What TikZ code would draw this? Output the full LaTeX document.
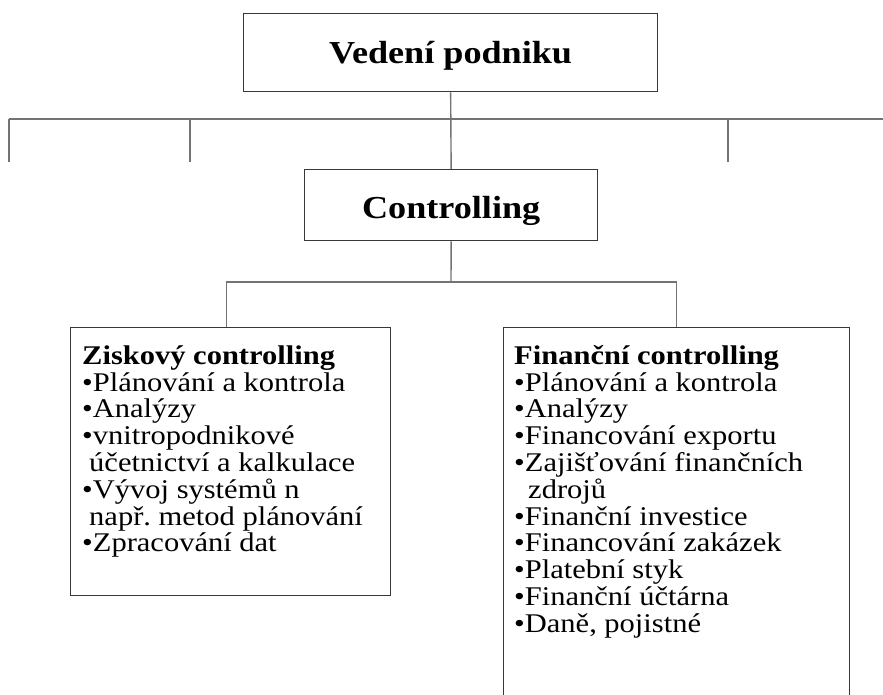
\documentclass[tikz,border=0pt]{standalone}
\usepackage{fontspec}
\setmainfont{Liberation Serif}[FakeStretch=1.13]
\newfontfamily\headfont{Liberation Serif}[FakeStretch=1.13]
\frenchspacing
\begin{document}
\begin{tikzpicture}[x=1pt,y=-1pt,
  box/.style={draw=black!78, line width=1.3pt, inner sep=0pt, anchor=north west},
  link/.style={draw=black!55, line width=1.4pt},
  headtext/.style={font=\headfont\fontsize{32}{36}\selectfont\bfseries},
  listtext/.style={font=\fontsize{27}{26.8}\selectfont, align=left,
                   inner sep=0pt, anchor=north west}]
\useasboundingbox (0,0) rectangle (883,695);
\clip (0,0) rectangle (883,695);

% management and controlling boxes
\node[box, headtext, minimum width=414, minimum height=78,
      text height=22pt, text depth=0pt] (vp) at (243,13) {Vedení podniku};
\node[box, headtext, minimum width=293, minimum height=71,
      text height=27pt, text depth=0pt] (ctrl) at (304,169) {Controlling};

% the two branches of controlling
\node[box, minimum width=320, minimum height=268] (zisk) at (70,327) {};
\node[box, minimum width=346, minimum height=420] (fin) at (503,327) {};

\node[listtext] (ziskText) at (82,341) {\rule{0pt}{23pt}\textbf{Ziskový controlling}\\
•Plánování a kontrola\\
•Analýzy\\
•vnitropodnikové\\
\hspace*{7pt}účetnictví a kalkulace\\
•Vývoj systémů n\\
\hspace*{7pt}např. metod plánování\\
•Zpracování dat};

\node[listtext] (finText) at (514,341) {\rule{0pt}{23pt}\textbf{Finanční controlling}\\
•Plánování a kontrola\\
•Analýzy\\
•Financování exportu\\
•Zajišťování finančních\\
\hspace*{14pt}zdrojů\\
•Finanční investice\\
•Financování zakázek\\
•Platební styk\\
•Finanční účtárna\\
•Daně, pojistné};

% bus under the management box
\coordinate (busL) at (9,119);
\coordinate (busR) at (883,119);
\coordinate (d1) at (9,162);
\coordinate (d2) at (190,162);
\coordinate (d3) at (728,162);
\draw[link] (vp.south) -- (ctrl.north);
\draw[link] (busL) -- (busR);
\draw[link] (busL) -- (d1);
\draw[link] (d2 |- busL) -- (d2);
\draw[link] (d3 |- busL) -- (d3);

% split from controlling to its branches
\coordinate (split) at (451,282);
\coordinate (zl) at ([xshift=-4pt]zisk.north);
\draw[link] (ctrl.south) -- (split);
\draw[link] (zl) |- (split) -| (fin.north);
\end{tikzpicture}
\end{document}
